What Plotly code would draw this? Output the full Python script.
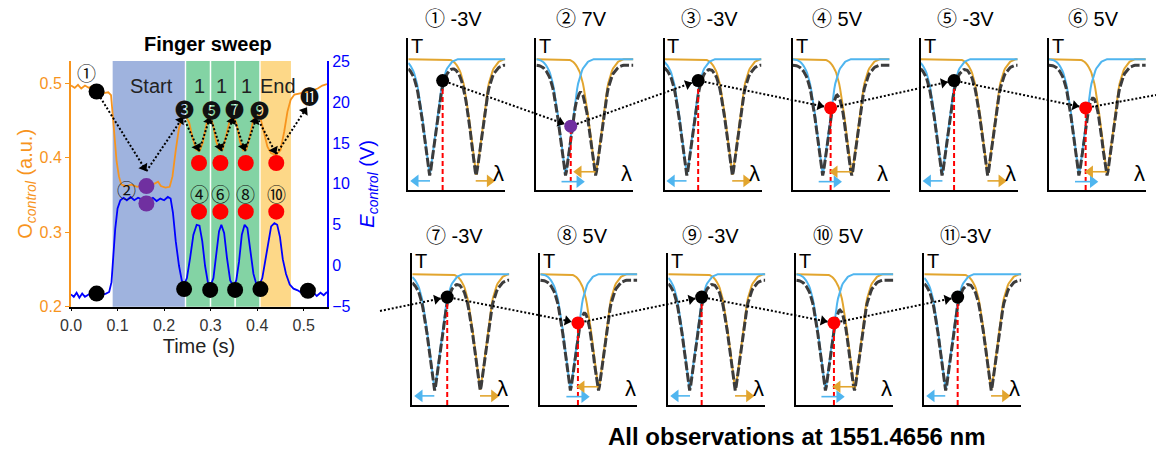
import math
import plotly.graph_objects as go

W, H = 1156, 450
FONT = "Liberation Sans, Arial, DejaVu Sans, sans-serif"
CJK = "Noto Sans CJK JP, DejaVu Sans, sans-serif"
ORANGE = "#F7941D"
BLUE = "#0000FF"
PURPLE = "#7030A0"
RED = "#FF0000"
SKY = "#4FB5EF"
GOLD = "#E2A52E"
DARK = "#3C3C3C"

# ---------------- main panel data (Finger sweep) ----------------
t_o = [0.000, 0.008, 0.015, 0.022, 0.030, 0.038, 0.045, 0.052, 0.060, 0.070, 0.080, 0.086,
       0.090, 0.094, 0.098, 0.103, 0.108, 0.118, 0.130, 0.142, 0.155, 0.170, 0.180, 0.187,
       0.193, 0.203, 0.212, 0.218, 0.225, 0.232, 0.240, 0.247, 0.254, 0.262, 0.269, 0.276,
       0.283, 0.291, 0.298, 0.305, 0.312, 0.319, 0.326, 0.333, 0.341, 0.349, 0.356, 0.363,
       0.370, 0.377, 0.384, 0.392, 0.399, 0.406, 0.414, 0.422, 0.430, 0.440, 0.450, 0.458,
       0.465, 0.472, 0.480, 0.490, 0.500, 0.510, 0.520, 0.530, 0.540, 0.550]
o_control = [0.497, 0.494, 0.498, 0.493, 0.497, 0.494, 0.496, 0.490, 0.489, 0.487, 0.488, 0.484,
             0.455, 0.420, 0.395, 0.375, 0.364, 0.362, 0.364, 0.361, 0.363, 0.362, 0.365, 0.368,
             0.362, 0.360, 0.361, 0.375, 0.410, 0.440, 0.455, 0.456, 0.447, 0.425, 0.411, 0.409,
             0.420, 0.445, 0.457, 0.445, 0.422, 0.410, 0.411, 0.428, 0.450, 0.457, 0.445, 0.422,
             0.410, 0.411, 0.428, 0.452, 0.460, 0.456, 0.437, 0.415, 0.406, 0.404, 0.410, 0.435,
             0.462, 0.478, 0.485, 0.486, 0.488, 0.489, 0.491, 0.493, 0.497, 0.499]

t_e = [0.000, 0.006, 0.012, 0.018, 0.024, 0.030, 0.038, 0.046, 0.055, 0.065, 0.075, 0.082,
       0.087, 0.091, 0.095, 0.100, 0.106, 0.113, 0.120, 0.128, 0.136, 0.144, 0.152, 0.160,
       0.168, 0.176, 0.184, 0.192, 0.200, 0.208, 0.214, 0.219, 0.225, 0.232, 0.238, 0.243,
       0.249, 0.256, 0.263, 0.270, 0.276, 0.282, 0.288, 0.294, 0.300, 0.306, 0.312, 0.318,
       0.323, 0.329, 0.335, 0.342, 0.349, 0.355, 0.361, 0.367, 0.373, 0.379, 0.385, 0.392,
       0.399, 0.405, 0.411, 0.417, 0.423, 0.430, 0.437, 0.443, 0.449, 0.455, 0.462, 0.470,
       0.478, 0.487, 0.495, 0.503, 0.512, 0.520, 0.528, 0.536, 0.543, 0.550]
e_control = [-3.5, -3.8, -3.3, -3.9, -3.4, -3.8, -3.5, -3.7, -3.5, -3.6, -3.4, -3.2,
             -2.0, 1.0, 4.5, 7.0, 8.0, 8.3, 8.0, 8.4, 8.0, 8.3, 8.1, 8.4,
             8.0, 8.3, 7.9, 8.2, 8.0, 8.4, 8.2, 6.5, 3.0, 0.0, -1.8, -2.3,
             -1.5, 1.0, 3.8, 5.0, 4.9, 3.0, 0.0, -2.0, -2.4, -1.5, 1.5, 4.2,
             5.0, 4.0, 1.0, -1.8, -2.5, -1.8, 0.5, 3.8, 5.0, 4.6, 2.0, -1.0,
             -2.4, -2.3, -1.5, 0.5, 3.0, 4.8, 5.2, 5.0, 3.5, 0.8, -1.0, -2.3,
             -2.8, -3.0, -3.3, -3.1, -3.4, -3.2, -3.7, -3.3, -3.6, -3.2]

# state markers on the O (left) axis and on the E (right) axis
mk_o_t = [0.055, 0.162, 0.275, 0.321, 0.3755, 0.441]
mk_o_v = [0.489, 0.362, 0.393, 0.393, 0.393, 0.393]
mk_o_c = ["black", PURPLE, RED, RED, RED, RED]
mk_e_t = [0.055, 0.162, 0.243, 0.275, 0.299, 0.321, 0.3526, 0.3755, 0.407, 0.441, 0.509]
mk_e_v = [-3.4, 7.6, -2.85, 6.6, -2.95, 6.6, -2.95, 6.6, -2.85, 6.6, -3.05]
mk_e_c = ["black", PURPLE, "black", RED, "black", RED, "black", RED, "black", RED, "black"]

# finger-sweep phases
phase_start = [0.0895, 0.2475, 0.4075]
phase_end = [0.2445, 0.4045, 0.4725]
phase_colors = ["#9FB3DE", "#83D3A4", "#FDD888"]
phase_dividers = [0.2997, 0.3526]
phase_labels = ["Start", "1", "1", "1", "End"]
phase_label_t = [0.173, 0.275, 0.3235, 0.377, 0.445]
phase_label_o = [0.497, 0.497, 0.497, 0.497, 0.497]

# step numbers
step_labels = ["①", "②", "❸", "④", "❺", "⑥", "❼", "⑧", "❾", "⑩", "⓫"]
step_label_t = [0.0323, 0.1195, 0.2446, 0.275, 0.301, 0.321, 0.3519, 0.3755, 0.404, 0.441, 0.513]
step_label_o = [0.514, 0.358, 0.466, 0.352, 0.465, 0.352, 0.466, 0.352, 0.465, 0.352, 0.484]

# sequence arrows (step order)
arrow_t = [0.055, 0.162, 0.241, 0.275, 0.299, 0.323, 0.349, 0.374, 0.399, 0.441, 0.507]
arrow_o = [0.489, 0.382, 0.455, 0.409, 0.455, 0.409, 0.455, 0.409, 0.455, 0.405, 0.468]

x_ticks = [0.0, 0.1, 0.2, 0.3, 0.4, 0.5]
o_ticks = [0.2, 0.3, 0.4, 0.5]
e_ticks = [-5, 0, 5, 10, 15, 20, 25]

# ---------------- inset spectra data ----------------
inset_num = ["①", "②", "③", "④", "⑤", "⑥", "⑦", "⑧", "⑨", "⑩", "⑪"]
inset_volt = [" -3V", " 7V", " -3V", " 5V", " -3V", " 5V", " -3V", " 5V", " -3V", " 5V", "-3V"]
blue_dip = [22.4, 29.9, 22.7, 30.9, 22.4, 31.0, 22.7, 30.9, 22.4, 29.9, 21.6]
orange_dip = [69.5, 61.0, 69.8, 60.8, 68.8, 60.0, 69.8, 60.0, 68.8, 60.0, 68.8]
probe_x = [35.4, 35.4, 34.7, 39.2, 34.4, 38.0, 36.0, 38.8, 34.4, 38.8, 34.4]
probe_T = [0.72, 0.42, 0.72, 0.54, 0.72, 0.54, 0.71, 0.54, 0.71, 0.54, 0.71]
probe_color = ["black", PURPLE, "black", RED, "black", RED, "black", RED, "black", RED, "black"]
tuned_up = [False, True, False, True, False, True, False, True, False, True, False]
# resonance dip shape (T vs distance from resonance)
dip_profile = [0.10, 0.13, 0.18, 0.23, 0.28, 0.34, 0.40, 0.45, 0.50, 0.55, 0.59,
               0.63, 0.665, 0.70, 0.725, 0.75, 0.77, 0.785, 0.80, 0.81, 0.82,
               0.83, 0.836, 0.842, 0.847, 0.851, 0.854, 0.856, 0.858, 0.86, 0.86]
combined_scale = 0.955

# ---------------- geometry (pixels) ----------------
MX0, MX1, MTOP, MBOT = 71, 327, 61, 306.7
T_RANGE, O_RANGE, E_RANGE = [0, 0.55], [0.2, 0.53], [-5, 25]
INSET_W, INSET_H = 97, 152
inset_left = [408.3 + 128.1 * i for i in range(6)] + [412.3 + 128.0 * i for i in range(5)]
inset_top = [38] * 6 + [253] * 5
title_dx = [45] * 6 + [42] * 5
row_exit = (W, 95)
row_entry = (380, 311)


def main_px(t, v):
    px = MX0 + (t - T_RANGE[0]) / (T_RANGE[1] - T_RANGE[0]) * (MX1 - MX0)
    py = MBOT - (v - O_RANGE[0]) / (O_RANGE[1] - O_RANGE[0]) * (MBOT - MTOP)
    return px, py


def inset_px(i, x, T):
    return inset_left[i] + x / 100 * INSET_W, inset_top[i] + (1 - T) * INSET_H


fig = go.Figure()
shapes = []
annotations = []

# ---- main panel ----
for x0, x1, col in zip(phase_start, phase_end, phase_colors):
    shapes.append(dict(type="rect", xref="x", yref="y domain", x0=x0, x1=x1, y0=0, y1=1,
                       fillcolor=col, line=dict(width=0), layer="below"))
for xs in phase_dividers:
    shapes.append(dict(type="line", xref="x", yref="y domain", x0=xs, x1=xs, y0=0, y1=1,
                       line=dict(color="white", width=1.5), layer="below"))

fig.add_trace(go.Scatter(x=t_o, y=o_control, mode="lines", line=dict(color=ORANGE, width=1.8),
                         xaxis="x", yaxis="y"))
fig.add_trace(go.Scatter(x=mk_o_t, y=mk_o_v, mode="markers",
                         marker=dict(size=16, color=mk_o_c), xaxis="x", yaxis="y"))
fig.add_trace(go.Scatter(x=t_e, y=e_control, mode="lines", line=dict(color=BLUE, width=1.8),
                         xaxis="x", yaxis="y2"))
fig.add_trace(go.Scatter(x=mk_e_t, y=mk_e_v, mode="markers",
                         marker=dict(size=16, color=mk_e_c), xaxis="x", yaxis="y2"))

for lab, t, v in zip(phase_labels, phase_label_t, phase_label_o):
    annotations.append(dict(x=t, y=v, xref="x", yref="y", text=lab, showarrow=False,
                            font=dict(size=20, color="#222")))
for lab, t, v in zip(step_labels, step_label_t, step_label_o):
    annotations.append(dict(x=t, y=v, xref="x", yref="y", text=lab, showarrow=False,
                            font=dict(size=19, color="#111", family=CJK)))

# ---- overlay helpers (pixel space) ----
line_x, line_y = [], []
head_x, head_y, head_a = [], [], []


def add_seg(p0, p1, trim0=0.0, trim1=0.0, head=True, hsize=9):
    dx, dy = p1[0] - p0[0], p1[1] - p0[1]
    L = math.hypot(dx, dy)
    ux, uy = dx / L, dy / L
    s = (p0[0] + ux * trim0, p0[1] + uy * trim0)
    e = (p1[0] - ux * trim1, p1[1] - uy * trim1)
    line_x.extend([s[0], e[0], None])
    line_y.extend([s[1], e[1], None])
    if head:
        head_x.append(e[0] - ux * hsize / 2)
        head_y.append(e[1] - uy * hsize / 2)
        head_a.append(math.degrees(math.atan2(dx, -dy)))


# main-chart step arrows
mp = [main_px(t, v) for t, v in zip(arrow_t, arrow_o)]
for k in range(len(mp) - 1):
    add_seg(mp[k], mp[k + 1], trim0=(7 if k == 0 else 0), head=True)

# shift arrows (blue / orange) in pixel space
shift = {SKY: ([], [], [], [], []), GOLD: ([], [], [], [], [])}
SH = 11

# ---- insets ----
base = dip_profile[-1]
for i in range(11):
    n = i + 3
    xa, ya = f"x{n}", f"y{n}"
    xs = list(range(0, 101))
    cb, co = round(blue_dip[i]), round(orange_dip[i])
    blue = [dip_profile[min(abs(x - cb), len(dip_profile) - 1)] for x in xs]
    orng = [dip_profile[min(abs(x - co), len(dip_profile) - 1)] for x in xs]
    comb = [b * o / base * combined_scale for b, o in zip(blue, orng)]
    fig.add_trace(go.Scatter(x=xs, y=orng, mode="lines", line=dict(color=GOLD, width=2),
                             xaxis=xa, yaxis=ya))
    fig.add_trace(go.Scatter(x=xs, y=blue, mode="lines", line=dict(color=SKY, width=2),
                             xaxis=xa, yaxis=ya))
    fig.add_trace(go.Scatter(x=xs, y=comb, mode="lines",
                             line=dict(color=DARK, width=3, dash="9px,2.5px"),
                             xaxis=xa, yaxis=ya))
    fig.add_trace(go.Scatter(x=[probe_x[i], probe_x[i]], y=[0, probe_T[i]], mode="lines",
                             line=dict(color=RED, width=2, dash="5px,3px"), xaxis=xa, yaxis=ya))
    fig.add_trace(go.Scatter(x=[probe_x[i]], y=[probe_T[i]], mode="markers",
                             marker=dict(size=13, color=probe_color[i]), xaxis=xa, yaxis=ya))
    if tuned_up[i]:
        arrs = [(SKY, blue_dip[i] - 4, blue_dip[i] + 20, 0.055),
                (GOLD, orange_dip[i], orange_dip[i] - 23, 0.12)]
    else:
        arrs = [(SKY, blue_dip[i], 2, 0.06),
                (GOLD, orange_dip[i], orange_dip[i] + 20, 0.06)]
    for col, tail, headx, yy in arrs:
        p0 = inset_px(i, tail, yy)
        p1 = inset_px(i, headx, yy)
        d = 1 if p1[0] > p0[0] else -1
        lx, ly, hx, hy, ha = shift[col]
        lx.extend([p0[0], p1[0] - d * SH * 0.6, None])
        ly.extend([p0[1], p1[1], None])
        hx.append(p1[0] - d * SH / 2)
        hy.append(p1[1])
        ha.append(90 if d > 0 else 270)
    annotations.append(dict(x=1, y=0.945, xref=xa, yref=ya, text="T", showarrow=False,
                            xanchor="left", yanchor="middle", font=dict(size=20, color="black")))
    annotations.append(dict(x=93, y=0.11, xref=xa, yref=ya, text="λ", showarrow=False,
                            xanchor="center", yanchor="middle", font=dict(size=22, color="black")))
    ty = 17 if i < 6 else 234
    annotations.append(dict(x=inset_left[i] + title_dx[i], y=ty, xref="x14", yref="y14",
                            text=f"<span style=\"font-family:'Noto Sans CJK JP'\">{inset_num[i]}</span>{inset_volt[i]}",
                            showarrow=False, font=dict(size=20, color="black")))

for col, (lx, ly, hx, hy, ha) in shift.items():
    fig.add_trace(go.Scatter(x=lx, y=ly, mode="lines", line=dict(color=col, width=1.6),
                             xaxis="x14", yaxis="y14"))
    fig.add_trace(go.Scatter(x=hx, y=hy, mode="markers",
                             marker=dict(symbol="triangle-up", size=SH, color=col, angle=ha,
                                         line=dict(width=0)),
                             xaxis="x14", yaxis="y14"))

# inset connectors
R = 6.5
pts = [inset_px(i, probe_x[i], probe_T[i]) for i in range(11)]
for k in range(5):
    add_seg(pts[k], pts[k + 1], R, R)
add_seg(pts[5], row_exit, R, 0, head=False)
add_seg(row_entry, pts[6], 0, R)
for k in range(6, 10):
    add_seg(pts[k], pts[k + 1], R, R)

fig.add_trace(go.Scatter(x=line_x, y=line_y, mode="lines",
                         line=dict(color="black", width=2, dash="2px,2px"),
                         xaxis="x14", yaxis="y14"))
fig.add_trace(go.Scatter(x=head_x, y=head_y, mode="markers",
                         marker=dict(symbol="triangle-up", size=9, color="black", angle=head_a,
                                     line=dict(width=0)),
                         xaxis="x14", yaxis="y14"))

annotations.append(dict(x=208, y=44, xref="x14", yref="y14", text="<b>Finger sweep</b>",
                        showarrow=False, font=dict(size=20, color="black")))
annotations.append(dict(x=797, y=436, xref="x14", yref="y14",
                        text="<b>All observations at 1551.4656 nm</b>",
                        showarrow=False, font=dict(size=24, color="black")))

# ---------------- layout ----------------
layout = dict(
    width=W, height=H, margin=dict(l=0, r=0, t=0, b=0),
    paper_bgcolor="white", plot_bgcolor="rgba(0,0,0,0)", showlegend=False,
    font=dict(family=FONT, color="black"),
    shapes=shapes, annotations=annotations,
)
layout["xaxis"] = dict(domain=[MX0 / W, MX1 / W], range=T_RANGE, anchor="y", showline=True,
                       linecolor="black", linewidth=1.5, ticks="outside", ticklen=3,
                       tickcolor="black", tickvals=x_ticks, tickformat=".1f",
                       tickfont=dict(size=16, color="#333"), showgrid=False, zeroline=False,
                       title=dict(text="Time (s)", font=dict(size=20, color="#222"), standoff=6),
                       automargin=False)
layout["yaxis"] = dict(domain=[1 - MBOT / H, 1 - MTOP / H], range=O_RANGE, anchor="x",
                       showline=True, linecolor=ORANGE, linewidth=2, ticks="outside", ticklen=4,
                       tickcolor=ORANGE, tickvals=o_ticks, tickformat=".1f",
                       tickfont=dict(size=16, color=ORANGE), showgrid=False, zeroline=False,
                       title=dict(text="O<sub><i>control</i></sub> (a.u.)",
                                  font=dict(size=20, color=ORANGE), standoff=2),
                       automargin=False)
layout["yaxis2"] = dict(overlaying="y", side="right", anchor="x", range=E_RANGE,
                        showline=True, linecolor=BLUE, linewidth=2, ticks="", tickvals=e_ticks,
                        tickfont=dict(size=16, color=BLUE), showgrid=False, zeroline=False,
                        title=dict(text="<i>E<sub>control</sub></i> (V)",
                                   font=dict(size=20, color=BLUE), standoff=10),
                        automargin=False)
for i in range(11):
    n = i + 3
    x0 = inset_left[i]
    top = inset_top[i]
    layout[f"xaxis{n}"] = dict(domain=[x0 / W, (x0 + INSET_W) / W], range=[0, 100], anchor=f"y{n}",
                               showline=True, linecolor="black", linewidth=2, ticks="",
                               showticklabels=False, showgrid=False, zeroline=False)
    layout[f"yaxis{n}"] = dict(domain=[1 - (top + INSET_H) / H, 1 - top / H], range=[0, 1],
                               anchor=f"x{n}", showline=True, linecolor="black", linewidth=2,
                               ticks="", showticklabels=False, showgrid=False, zeroline=False)
layout["xaxis14"] = dict(domain=[0, 1], range=[0, W], anchor="y14", visible=False)
layout["yaxis14"] = dict(domain=[0, 1], range=[H, 0], anchor="x14", visible=False)

fig.update_layout(**layout)
fig.write_html("out.html")
